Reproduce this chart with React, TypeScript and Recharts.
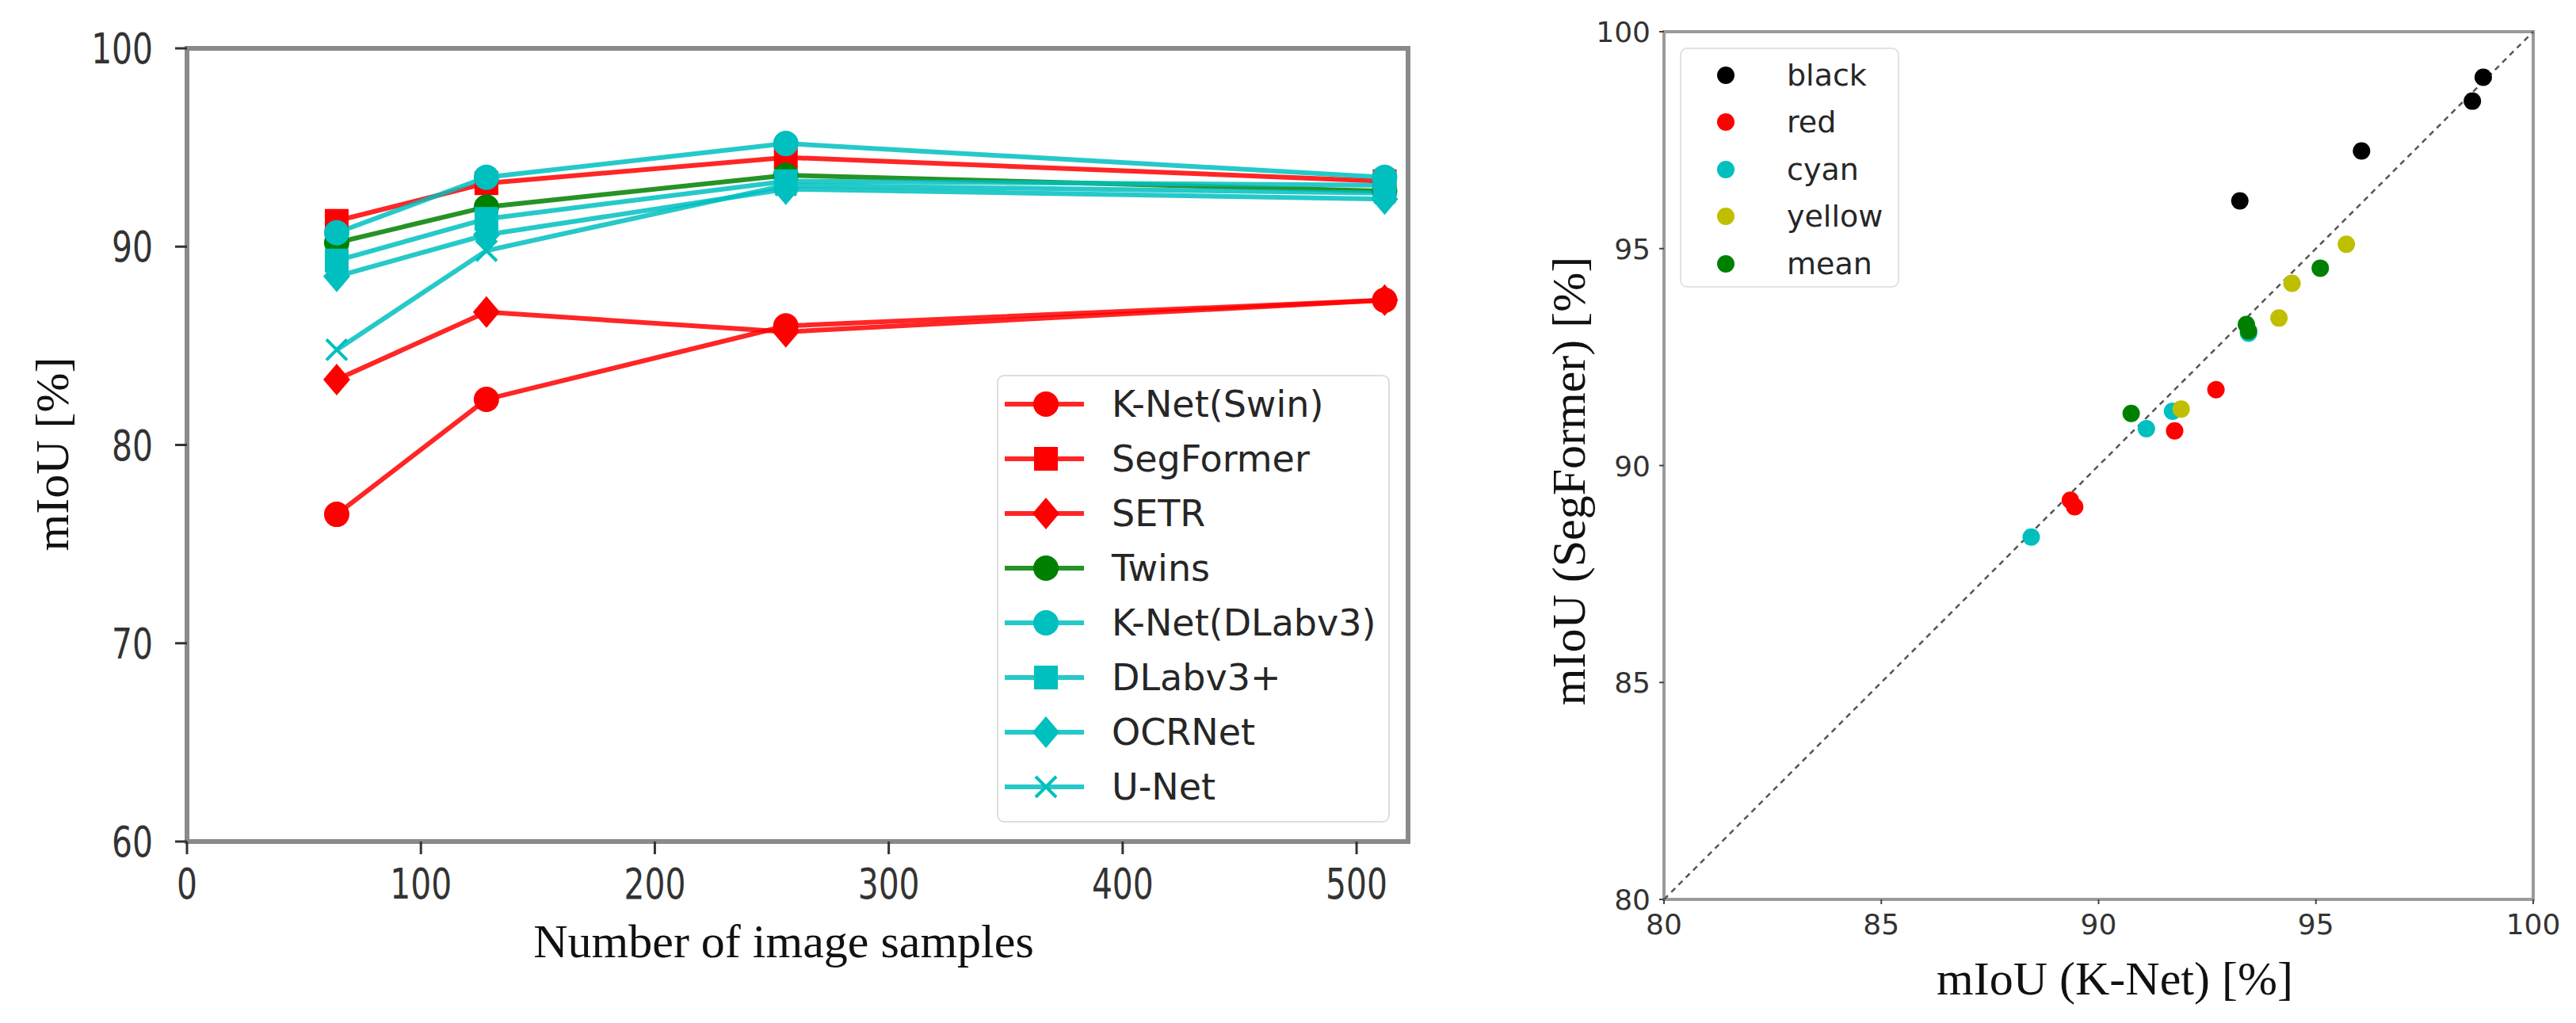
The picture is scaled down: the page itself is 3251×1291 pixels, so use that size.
import React from 'react';
import {
  LineChart,
  Line,
  XAxis,
  YAxis,
  Label,
  Legend,
  ReferenceArea,
  ReferenceLine,
  ScatterChart,
  Scatter,
} from 'recharts';

// left panel: mIoU vs number of training images
const samples = [64, 128, 256, 512];
const knetSwin = [76.5, 82.3, 86.0, 87.3];
const segFormer = [91.3, 93.2, 94.5, 93.3];
const setr = [83.3, 86.7, 85.7, 87.3];
const twins = [90.2, 92.0, 93.6, 92.8];
const knetDlab = [90.7, 93.5, 95.2, 93.5];
const dlabPlus = [89.3, 91.4, 93.3, 93.1];
const ocrNet = [88.5, 90.6, 92.9, 92.4];
const uNet = [84.8, 89.8, 93.1, 92.7];

const sampleTicks = [0, 100, 200, 300, 400, 500];
const miouTicks = [60, 70, 80, 90, 100];

// right panel: K-Net vs SegFormer per class
const blackX = [98.85, 98.6, 96.05, 93.25];
const blackY = [98.95, 98.4, 97.25, 96.1];
const redX = [92.7, 91.75, 89.35, 89.45];
const redY = [91.75, 90.8, 89.2, 89.05];
const cyanX = [93.45, 91.7, 91.1, 88.45];
const cyanY = [93.05, 91.25, 90.85, 88.35];
const yellowX = [95.7, 94.45, 94.15, 91.9];
const yellowY = [95.1, 94.2, 93.4, 91.3];
const meanX = [95.1, 93.4, 93.45, 90.75];
const meanY = [94.55, 93.25, 93.1, 91.2];

const pairTicks = [80, 85, 90, 95, 100];

const RED = '#ff0000';
const GREEN = '#008000';
const CYAN = '#00bfbf';

const lineSeries = [
  { key: 'knetSwin', name: 'K-Net(Swin)', values: knetSwin, color: RED, marker: 'circle' },
  { key: 'segFormer', name: 'SegFormer', values: segFormer, color: RED, marker: 'square' },
  { key: 'setr', name: 'SETR', values: setr, color: RED, marker: 'diamond' },
  { key: 'twins', name: 'Twins', values: twins, color: GREEN, marker: 'circle' },
  { key: 'knetDlab', name: 'K-Net(DLabv3)', values: knetDlab, color: CYAN, marker: 'circle' },
  { key: 'dlabPlus', name: 'DLabv3+', values: dlabPlus, color: CYAN, marker: 'square' },
  { key: 'ocrNet', name: 'OCRNet', values: ocrNet, color: CYAN, marker: 'diamond' },
  { key: 'uNet', name: 'U-Net', values: uNet, color: CYAN, marker: 'x' },
];

const lineData = samples.map((n, i) => {
  const row: Record<string, number> = { n };
  lineSeries.forEach((s) => (row[s.key] = s.values[i]));
  return row;
});

const toPoints = (xs: number[], ys: number[]) => xs.map((x, i) => ({ x, y: ys[i] }));

const scatterGroups = [
  { name: 'black', color: '#000000', data: toPoints(blackX, blackY) },
  { name: 'red', color: RED, data: toPoints(redX, redY) },
  { name: 'cyan', color: CYAN, data: toPoints(cyanX, cyanY) },
  { name: 'yellow', color: '#bfbf00', data: toPoints(yellowX, yellowY) },
  { name: 'mean', color: GREEN, data: toPoints(meanX, meanY) },
];

const SANS = '"DejaVu Sans", sans-serif';
const SERIF = '"Liberation Serif", "Times New Roman", serif';

const Marker = ({ kind, cx, cy, color }: { kind: string; cx: number; cy: number; color: string }) => {
  if (kind === 'square') return <rect x={cx - 15} y={cy - 15} width={30} height={30} fill={color} />;
  if (kind === 'diamond')
    return <polygon points={`${cx},${cy - 20} ${cx + 17},${cy} ${cx},${cy + 20} ${cx - 17},${cy}`} fill={color} />;
  if (kind === 'x')
    return (
      <path
        d={`M${cx - 13},${cy - 13}L${cx + 13},${cy + 13}M${cx - 13},${cy + 13}L${cx + 13},${cy - 13}`}
        stroke={color}
        strokeWidth={4}
      />
    );
  return <circle cx={cx} cy={cy} r={16} fill={color} />;
};

// left panel tick labels are narrow, squeeze them horizontally
const SampleTick = ({ x, y, payload }: any) => (
  <g transform={`translate(${x},${y})`}>
    <text transform="scale(0.77,1)" textAnchor="middle" dy={39} fontSize={53} fontFamily={SANS} fill="#333">
      {payload.value}
    </text>
  </g>
);

const MiouTick = ({ x, y, payload }: any) => (
  <g transform={`translate(${x},${y})`}>
    <text transform="scale(0.77,1)" textAnchor="end" dy={19} fontSize={53} fontFamily={SANS} fill="#333">
      {payload.value}
    </text>
  </g>
);

const PairXTick = ({ x, y, payload }: any) => (
  <text x={x} y={y} dy={26} textAnchor="middle" fontSize={36} fontFamily={SANS} fill="#333">
    {payload.value}
  </text>
);

const PairYTick = ({ x, y, payload }: any) => (
  <text x={x} y={y} dy={13} textAnchor="end" fontSize={36} fontFamily={SANS} fill="#333">
    {payload.value}
  </text>
);

const LineLegend = () => (
  <div
    style={{
      boxSizing: 'border-box',
      width: 496,
      height: 565,
      border: '2.5px solid #dedede',
      borderRadius: 9,
      background: 'rgba(255,255,255,0.85)',
      paddingLeft: 8,
      fontFamily: SANS,
      fontSize: 46,
      color: '#262626',
    }}
  >
    {lineSeries.map((s) => (
      <div key={s.key} style={{ display: 'flex', alignItems: 'center', height: 69 }}>
        <svg width={100} height={50} style={{ flex: 'none' }}>
          <line x1={0} y1={25} x2={100} y2={25} stroke={s.color} strokeWidth={6} strokeOpacity={0.85} />
          <Marker kind={s.marker} cx={52} cy={25} color={s.color} />
        </svg>
        <span style={{ marginLeft: 35, lineHeight: 1, whiteSpace: 'nowrap' }}>{s.name}</span>
      </div>
    ))}
  </div>
);

const ScatterLegend = () => (
  <div
    style={{
      boxSizing: 'border-box',
      width: 277,
      height: 303,
      border: '2.5px solid #e2e2e2',
      borderRadius: 9,
      background: 'rgba(255,255,255,0.85)',
      paddingTop: 3,
      fontFamily: SANS,
      fontSize: 38,
      color: '#262626',
    }}
  >
    {scatterGroups.map((g) => (
      <div key={g.name} style={{ display: 'flex', alignItems: 'center', height: 59.5 }}>
        <svg width={133} height={30} style={{ flex: 'none' }}>
          <circle cx={56} cy={15} r={11} fill={g.color} />
        </svg>
        <span style={{ lineHeight: 1 }}>{g.name}</span>
      </div>
    ))}
  </div>
);

const App = () => {
  return (
    <div style={{ position: 'absolute', left: 0, top: 0, width: 3251, height: 1291, background: '#fff' }}>
      <div style={{ position: 'absolute', left: 0, top: 0 }}>
        <LineChart width={1800} height={1291} data={lineData} margin={{ top: 61, right: 23, bottom: 0, left: 0 }}>
          <XAxis
            type="number"
            dataKey="n"
            domain={[0, 522]}
            ticks={sampleTicks}
            allowDataOverflow
            height={229}
            axisLine={false}
            tickLine={{ stroke: '#333', strokeWidth: 3 }}
            tickSize={16}
            tickMargin={17}
            tick={<SampleTick />}
          >
            <Label
              content={() => (
                <text x={989} y={1208} textAnchor="middle" fontSize={60} fontFamily={SERIF} fill="#111">
                  Number of image samples
                </text>
              )}
            />
          </XAxis>
          <YAxis
            type="number"
            domain={[60, 100]}
            ticks={miouTicks}
            allowDataOverflow
            width={236}
            axisLine={false}
            tickLine={{ stroke: '#333', strokeWidth: 3 }}
            tickSize={15}
            tickMargin={28}
            tick={<MiouTick />}
          >
            <Label
              content={() => (
                <text
                  transform="translate(86,573) rotate(-90)"
                  textAnchor="middle"
                  fontSize={60}
                  fontFamily={SERIF}
                  fill="#111"
                >
                  mIoU [%]
                </text>
              )}
            />
          </YAxis>
          <ReferenceArea x1={0} x2={522} y1={60} y2={100} fill="none" stroke="#8a8a8a" strokeWidth={6} />
          {lineSeries.map((s) => (
            <Line
              key={s.key}
              type="linear"
              dataKey={s.key}
              name={s.name}
              stroke={s.color}
              strokeWidth={6}
              strokeOpacity={0.85}
              dot={(p: any) => <Marker key={`${s.key}-${p.index}`} kind={s.marker} cx={p.cx} cy={p.cy} color={s.color} />}
              activeDot={false}
              isAnimationActive={false}
            />
          ))}
          <Legend
            layout="vertical"
            align="center"
            verticalAlign="middle"
            content={<LineLegend />}
            wrapperStyle={{ left: 1258, top: 473, width: 496, height: 565 }}
          />
        </LineChart>
      </div>

      <div style={{ position: 'absolute', left: 1900, top: 0 }}>
        <ScatterChart width={1351} height={1291} margin={{ top: 40, right: 54, bottom: 0, left: 0 }}>
          <XAxis
            type="number"
            dataKey="x"
            domain={[80, 100]}
            ticks={pairTicks}
            allowDataOverflow
            height={156}
            axisLine={false}
            tickLine={{ stroke: '#444', strokeWidth: 2 }}
            tickSize={6}
            tickMargin={12}
            tick={<PairXTick />}
          >
            <Label
              content={() => (
                <text x={769} y={1255} textAnchor="middle" fontSize={60} fontFamily={SERIF} fill="#111">
                  mIoU (K-Net) [%]
                </text>
              )}
            />
          </XAxis>
          <YAxis
            type="number"
            dataKey="y"
            domain={[80, 100]}
            ticks={pairTicks}
            allowDataOverflow
            width={200}
            axisLine={false}
            tickLine={{ stroke: '#444', strokeWidth: 2 }}
            tickSize={6}
            tickMargin={11}
            tick={<PairYTick />}
          >
            <Label
              content={() => (
                <text
                  transform="translate(100,607) rotate(-90)"
                  textAnchor="middle"
                  fontSize={60}
                  fontFamily={SERIF}
                  fill="#111"
                >
                  mIoU (SegFormer) [%]
                </text>
              )}
            />
          </YAxis>
          <ReferenceArea x1={80} x2={100} y1={80} y2={100} fill="none" stroke="#9a9a9a" strokeWidth={4} />
          <ReferenceLine
            segment={[
              { x: 80, y: 80 },
              { x: 100, y: 100 },
            ]}
            stroke="#555"
            strokeWidth={2.5}
            strokeDasharray="7 6"
          />
          {scatterGroups.map((g) => (
            <Scatter
              key={g.name}
              name={g.name}
              data={g.data}
              fill={g.color}
              isAnimationActive={false}
              shape={(p: any) => <circle cx={p.cx} cy={p.cy} r={11} fill={g.color} />}
            />
          ))}
          <Legend
            layout="vertical"
            align="center"
            verticalAlign="middle"
            content={<ScatterLegend />}
            wrapperStyle={{ left: 220, top: 60, width: 277, height: 303 }}
          />
        </ScatterChart>
      </div>
    </div>
  );
};

export default App;
